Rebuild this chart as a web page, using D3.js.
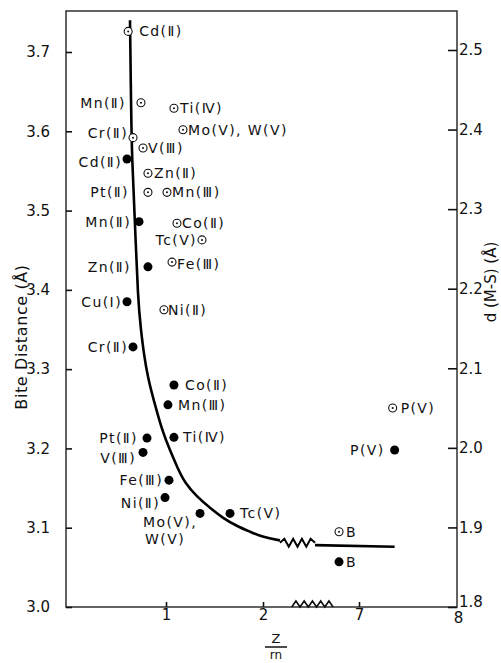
<!DOCTYPE html>
<html>
<head>
<meta charset="utf-8">
<script src="https://cdn.jsdelivr.net/npm/d3@7"></script>
<style>
  body { margin: 0; background: #fff; }
  text { font-family: "DejaVu Sans", sans-serif; fill: #111; }
</style>
</head>
<body>
<div id="chart"></div>
<script>
// Step 1: values
//================================
var xTicks = [1, 2, 7, 8];
var yTicks = [3.0, 3.1, 3.2, 3.3, 3.4, 3.5, 3.6, 3.7];
var y2Ticks = [1.8, 1.9, 2.0, 2.1, 2.2, 2.3, 2.4, 2.5];

// open circles (one set of complexes)
var openNames = ["Cd(Ⅱ)", "Mn(Ⅱ)", "Ti(Ⅳ)", "Mo(V), W(V)", "Cr(Ⅱ)", "V(Ⅲ)", "Zn(Ⅱ)",
  "Pt(Ⅱ)", "Mn(Ⅲ)", "Co(Ⅱ)", "Tc(V)", "Fe(Ⅲ)", "Ni(Ⅱ)", "P(V)", "B"];
var openZ = [0.61, 0.742, 1.082, 1.175, 0.66, 0.763, 0.814,
  0.814, 1.01, 1.113, 1.371, 1.062, 0.979, 7.34, 5.96];
var openBite = [3.726, 3.636, 3.629, 3.602, 3.592, 3.579, 3.547,
  3.523, 3.523, 3.484, 3.463, 3.435, 3.375, 3.251, 3.095];

// filled circles
var filledNames = ["Cd(Ⅱ)", "Mn(Ⅱ)", "Zn(Ⅱ)", "Cu(Ⅰ)", "Cr(Ⅱ)", "Co(Ⅱ)", "Mn(Ⅲ)", "Pt(Ⅱ)",
  "Ti(Ⅳ)", "V(Ⅲ)", "Fe(Ⅲ)", "Ni(Ⅱ)", "Mo(V),|W(V)", "Tc(V)", "P(V)", "B"];
var filledZ = [0.598, 0.722, 0.814, 0.598, 0.66, 1.082, 1.02, 0.804,
  1.082, 0.763, 1.031, 0.99, 1.351, 1.66, 7.36, 5.96];
var filledBite = [3.565, 3.486, 3.429, 3.385, 3.328, 3.280, 3.255, 3.213,
  3.214, 3.195, 3.160, 3.138, 3.118, 3.118, 3.198, 3.057];

// the drawn trend curve (before and after the break)
var curveZ = [0.629, 0.639, 0.649, 0.680, 0.711, 0.742, 0.773, 0.814, 0.866, 0.969,
  1.041, 1.113, 1.196, 1.320, 1.454, 1.588, 1.732, 1.866, 2.0, 2.885];
var curveBite = [3.740, 3.639, 3.565, 3.486, 3.387, 3.349, 3.318, 3.289, 3.264, 3.219,
  3.198, 3.177, 3.156, 3.139, 3.125, 3.112, 3.102, 3.095, 3.088, 3.084];
var tailZ = [4.71, 7.36];
var tailBite = [3.078, 3.076];

// label offsets from the marker (px)
var openDx = [11, -15, 6, 5, -5, 5, 6, -19, 5, 5, -5, 5, 4, 8, 7];
var openDy = [0, 0, 0, 0, -5, 0, 0, 0, 0, 0, 0, 2, 0, 0, 0];
var filledDx = [-5, -8, -17, -5, -5, 11, 10, -9, 9, -7, -6, -5, -3, 10, -10, 7];
var filledDy = [3, 0, 0, 0, 0, 0, 0, 0, 0, 6, 0, 5, 9, 0, 0, 0];

// Step 2: frame and scales
//================================
var svgWidth = 501;
var svgHeight = 663;
var frame = { left: 66, top: 11, right: 457, bottom: 607 };

var svg = d3.select("#chart")
  .append("svg")
  .attr("width", svgWidth)
  .attr("height", svgHeight);

// broken x axis: 0-2 linear, a break, then 7-8
var xScale = d3.scaleLinear()
  .domain([1, 2, 7, 8])
  .range([166, 263, 359, 458]);

var yScale = d3.scaleLinear()
  .domain([3.0, 3.7])
  .range([frame.bottom, 52]);

var y2Scale = d3.scaleLinear()
  .domain([1.8, 2.5])
  .range([frame.bottom, 50]);

svg.append("rect")
  .attr("x", frame.left)
  .attr("y", frame.top)
  .attr("width", frame.right - frame.left)
  .attr("height", frame.bottom - frame.top)
  .attr("fill", "none")
  .attr("stroke", "#222")
  .attr("stroke-width", 1.4);

// Step 3: axes (ticks point inward)
//================================
var leftAxis = d3.axisLeft(yScale)
  .tickValues(yTicks)
  .tickFormat(d3.format(".1f"))
  .tickSize(-6)
  .tickPadding(16);

var rightAxis = d3.axisRight(y2Scale)
  .tickValues(y2Ticks)
  .tickFormat(d3.format(".1f"))
  .tickSize(-9)
  .tickPadding(2);

var bottomAxis = d3.axisBottom(xScale)
  .tickValues(xTicks)
  .tickFormat(d3.format("d"))
  .tickSize(-5)
  .tickPadding(2);

function styleAxis(g) {
  g.select(".domain").remove();
  g.selectAll("line").attr("stroke", "#111").attr("stroke-width", 1.6);
  g.selectAll("text")
    .style("font-family", "DejaVu Sans, sans-serif")
    .style("font-size", "15px")
    .attr("fill", "#111");
}

svg.append("g")
  .attr("transform", `translate(${frame.left}, 0)`)
  .call(leftAxis)
  .call(styleAxis);

var rightG = svg.append("g")
  .attr("transform", `translate(${frame.right}, 0)`)
  .call(rightAxis)
  .call(styleAxis);
// 1.8 sits in the corner, nudge it up off the "8"
rightG.selectAll(".tick text").filter(d => d === 1.8).attr("dy", "-0.05em");

var xAxisG = svg.append("g")
  .attr("transform", `translate(0, ${frame.bottom})`)
  .call(bottomAxis)
  .call(styleAxis);
xAxisG.selectAll(".tick line").filter(d => d === 8).remove();
xAxisG.selectAll(".tick text").attr("dy", "0.75em");
xAxisG.selectAll(".tick text").filter(d => d === 8).attr("dy", "0.95em");

// zigzag break marks
function zigzag(x0, x1, yBase, n, amp, up) {
  var step = (x1 - x0) / (n * 2);
  var pts = [[x0, yBase]];
  for (var i = 1; i <= n * 2; i++) {
    var yy = up ? (i % 2 ? yBase - amp : yBase)
                : (i % 2 ? yBase - amp : yBase + amp);
    if (i === n * 2) yy = yBase;
    pts.push([x0 + i * step, yy]);
  }
  return d3.line()(pts);
}

svg.append("path")
  .attr("d", zigzag(xScale(3.5), xScale(5.65), frame.bottom, 5, 6, true))
  .attr("fill", "none")
  .attr("stroke", "#111")
  .attr("stroke-width", 1.6);

// Step 4: curve
//================================
var line = d3.line()
  .x(d => xScale(d[0]))
  .y(d => yScale(d[1]))
  .curve(d3.curveBasis);

svg.append("path")
  .datum(curveZ.map((z, i) => [z, curveBite[i]]))
  .attr("d", line)
  .attr("fill", "none")
  .attr("stroke", "#000")
  .attr("stroke-width", 2.6);

var zStart = curveZ.length - 1;
svg.append("path")
  .attr("d", zigzag(xScale(curveZ[zStart]), xScale(tailZ[0]),
    (yScale(curveBite[zStart]) + yScale(tailBite[0])) / 2, 4, 4, false))
  .attr("fill", "none")
  .attr("stroke", "#000")
  .attr("stroke-width", 2);

svg.append("path")
  .datum(tailZ.map((z, i) => [z, tailBite[i]]))
  .attr("d", d3.line().x(d => xScale(d[0])).y(d => yScale(d[1])))
  .attr("fill", "none")
  .attr("stroke", "#000")
  .attr("stroke-width", 2.6);

// Step 5: points and labels
//================================
var openData = openNames.map((n, i) => ({ name: n, z: openZ[i], b: openBite[i], dx: openDx[i], dy: openDy[i] }));
var filledData = filledNames.map((n, i) => ({ name: n, z: filledZ[i], b: filledBite[i], dx: filledDx[i], dy: filledDy[i] }));

var openG = svg.append("g");
openG.selectAll("circle.ring")
  .data(openData)
  .enter()
  .append("circle")
  .attr("cx", d => xScale(d.z))
  .attr("cy", d => yScale(d.b))
  .attr("r", 4)
  .attr("fill", "#fff")
  .attr("stroke", "#111")
  .attr("stroke-width", 1.1);
openG.selectAll("circle.dot")
  .data(openData)
  .enter()
  .append("circle")
  .attr("cx", d => xScale(d.z))
  .attr("cy", d => yScale(d.b))
  .attr("r", 1)
  .attr("fill", "#111");

svg.append("g").selectAll("circle")
  .data(filledData)
  .enter()
  .append("circle")
  .attr("cx", d => xScale(d.z))
  .attr("cy", d => yScale(d.b))
  .attr("r", 4.5)
  .attr("fill", "#000");

function addLabels(data) {
  var t = svg.append("g").selectAll("text")
    .data(data)
    .enter()
    .append("text")
    .attr("x", d => xScale(d.z) + d.dx)
    .attr("y", d => yScale(d.b) + d.dy)
    .attr("dy", "0.36em")
    .attr("text-anchor", d => d.dx < 0 ? "end" : "start")
    .style("font-size", "14px")
    .style("letter-spacing", "1.4px");

  t.each(function(d) {
    var parts = d.name.split("|");
    var el = d3.select(this);
    if (parts.length === 1) {
      el.text(d.name);
    } else {
      el.append("tspan").text(parts[0]);
      el.append("tspan")
        .attr("x", xScale(d.z) + d.dx - 12)
        .attr("dy", "1.15em")
        .text(parts[1]);
    }
  });
}
addLabels(openData);
addLabels(filledData);

// Step 6: axis titles
//================================
svg.append("text")
  .attr("transform", `translate(27, 337) rotate(-90)`)
  .attr("text-anchor", "middle")
  .style("font-size", "16px")
  .style("letter-spacing", "0.6px")
  .text("Bite Distance (Å)");

svg.append("text")
  .attr("transform", `translate(496, 282) rotate(-90)`)
  .attr("text-anchor", "middle")
  .style("font-size", "15px")
  .text("d (M-S) (Å)");

var xLab = svg.append("g").attr("transform", `translate(276, 0)`);
xLab.append("text")
  .attr("y", 643)
  .attr("text-anchor", "middle")
  .style("font-size", "13px")
  .text("Z");
xLab.append("line")
  .attr("x1", -11).attr("x2", 11)
  .attr("y1", 647).attr("y2", 647)
  .attr("stroke", "#111")
  .attr("stroke-width", 1.5);
xLab.append("text")
  .attr("y", 659)
  .attr("text-anchor", "middle")
  .style("font-size", "12px")
  .text("rn");
</script>
</body>
</html>
